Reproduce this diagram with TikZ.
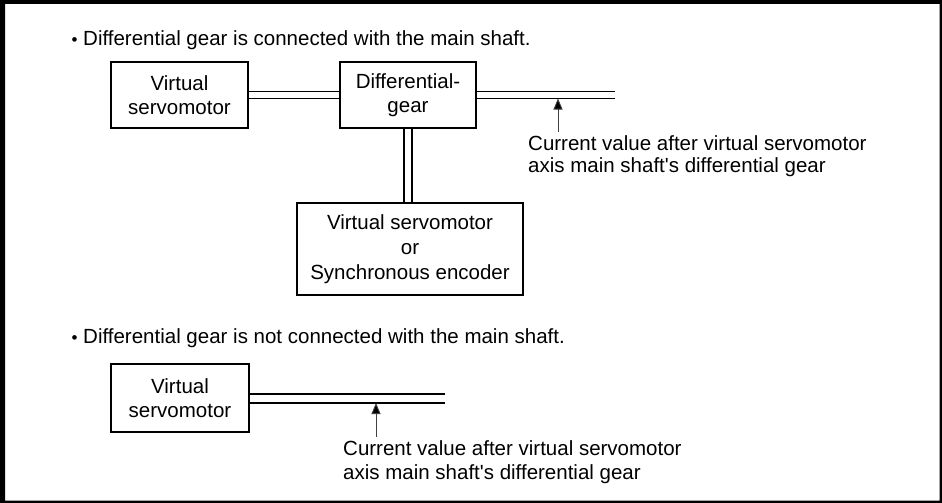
\documentclass[tikz,border=0pt]{standalone}
\usepackage{fontspec}
\setmainfont{Liberation Sans}
\usetikzlibrary{arrows.meta}
\begin{document}
\begin{tikzpicture}[x=1pt,y=-1pt,
  every node/.style={font=\fontsize{20.5}{23.5}\selectfont, inner sep=0pt},
  blk/.style={draw, line width=1.3pt, align=center},
  shaft/.style={line width=1.3pt},
  ptr/.style={line width=0.9pt, draw=black!75, -{Triangle[width=9pt,length=11pt,fill=black]}},
  bul/.style={font=\fontsize{17}{17}\selectfont},
]
\useasboundingbox (0,0) rectangle (942,503);
\fill[black, even odd rule] (0,0) rectangle (942,503) (5,4) rectangle (939.5,500.5);

% ---- upper part
\node[bul] (b1) at (74.5,41.5) {•};
\node[anchor=base west] (t1) at (83,45.5) {Differential gear is connected with the main shaft.};

\node[blk, minimum width=137pt, minimum height=66pt] (vs1) at (179.5,95) {Virtual\\servomotor};
\node[blk, minimum width=136pt, minimum height=66pt] (dg) at (408,95) {Differential-\\gear};
\node[blk, minimum width=226pt, minimum height=92pt,
      font=\fontsize{20.5}{25}\selectfont] (enc) at (410,249) {Virtual servomotor\\or\\Synchronous encoder};

\coordinate (end1) at (615,95);
\draw[shaft] ([yshift=3.5pt]vs1.east) -- ([yshift=3.5pt]dg.west);
\draw[shaft] ([yshift=-3.5pt]vs1.east) -- ([yshift=-3.5pt]dg.west);
\draw[shaft] ([yshift=3.5pt]dg.east) -- ([yshift=3.5pt]end1);
\draw[shaft] ([yshift=-3.5pt]dg.east) -- ([yshift=-3.5pt]end1);
\draw[shaft] ([xshift=-4pt]dg.south) -- ([xshift=-4pt]dg.south |- enc.north);
\draw[shaft] ([xshift=4pt]dg.south) -- ([xshift=4pt]dg.south |- enc.north);

\coordinate (tip1) at (558,98.5);
\coordinate (tail1) at (558,132);
\draw[ptr] (tail1) -- (tip1);
\node[anchor=north west, align=left, font=\fontsize{20.5}{22.5}\selectfont] (lab1) at (528,135)
  {Current value after virtual servomotor\\axis main shaft\textquotesingle s differential gear};

% ---- lower part
\node[bul] (b2) at (74.5,339.5) {•};
\node[anchor=base west] (t2) at (83,343.5) {Differential gear is not connected with the main shaft.};

\node[blk, minimum width=138pt, minimum height=68pt] (vs2) at (180,398) {Virtual\\servomotor};
\coordinate (end2) at (445,398.5);
\draw[shaft] ([yshift=4.5pt]vs2.east |- end2) -- ([yshift=4.5pt]end2);
\draw[shaft] ([yshift=-4.5pt]vs2.east |- end2) -- ([yshift=-4.5pt]end2);

\coordinate (tip2) at (376,403);
\coordinate (tail2) at (376,437);
\draw[ptr] (tail2) -- (tip2);
\node[anchor=north west, align=left, font=\fontsize{20.5}{23.5}\selectfont] (lab2) at (343,440.5)
  {Current value after virtual servomotor\\axis main shaft\textquotesingle s differential gear};
\end{tikzpicture}
\end{document}
